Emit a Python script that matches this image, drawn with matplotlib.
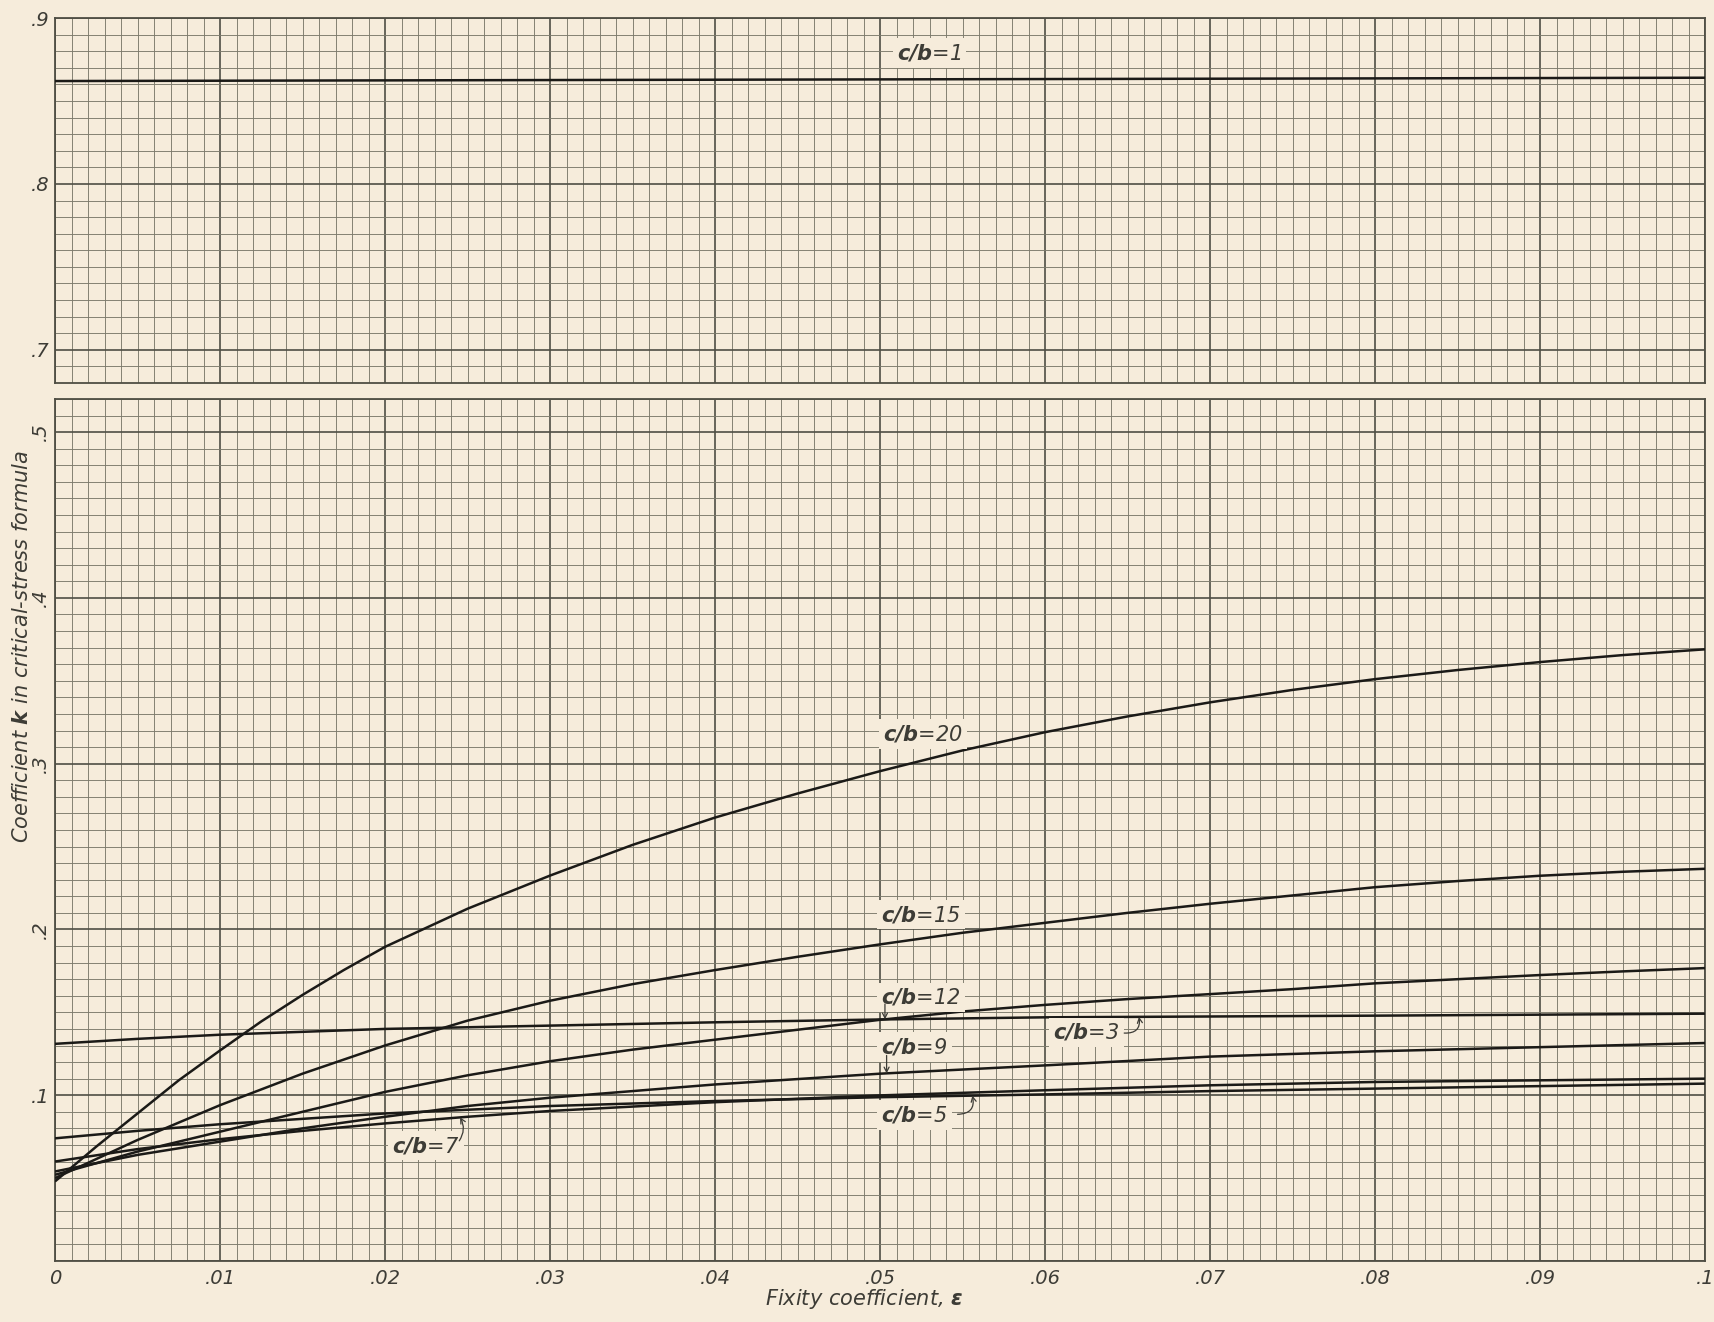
"""
Critical-stress coefficient k against fixity coefficient epsilon,
one curve for each panel ratio c/b, on a broken (two panel) axis.
"""
import numpy as np
import matplotlib
matplotlib.use('Agg')
import matplotlib.pyplot as plt

"""
CURVE DATA
"""
# c/b = 1 sits alone in the upper panel
eps_1 = [0.0, 0.05, 0.1]
k_1 = [0.862, 0.863, 0.864]

eps_3 = [0, .005, .01, .02, .03, .04, .05, .06, .07, .08, .09, .1]
k_3 = [0.131, 0.134, 0.1365, 0.140, 0.142, 0.144, 0.1457, 0.147, 0.1475, 0.148, 0.1486, 0.1492]

eps_5 = [0, .005, .01, .02, .03, .04, .05, .06, .07, .08, .09, .1]
k_5 = [0.074, 0.0785, 0.0825, 0.089, 0.0935, 0.0965, 0.0988, 0.1005, 0.1025, 0.104, 0.1055, 0.107]

eps_7 = [0, .005, .01, .015, .02, .025, .03, .04, .05, .06, .07, .08, .09, .1]
k_7 = [0.060, 0.0675, 0.0735, 0.0785, 0.083, 0.087, 0.0905, 0.0958, 0.0999, 0.103, 0.106, 0.108, 0.109, 0.110]

eps_9 = [0, .005, .01, .015, .02, .025, .03, .04, .05, .06, .07, .08, .09, .1]
k_9 = [0.054, 0.064, 0.072, 0.080, 0.087, 0.0935, 0.0985, 0.1065, 0.113, 0.118, 0.1233, 0.1265, 0.129, 0.1315]

eps_12 = [0, .005, .01, .015, .02, .025, .03, .035, .04, .045, .05, .055, .06, .065, .07, .075, .08, .085, .09, .095, .1]
k_12 = [0.052, 0.066, 0.078, 0.090, 0.102, 0.112, 0.1205, 0.1275, 0.1335, 0.1395, 0.1455, 0.1505, 0.1545, 0.158, 0.161, 0.164, 0.1675, 0.170, 0.1725, 0.1747, 0.1767]

eps_15 = [0, .005, .01, .015, .02, .025, .03, .035, .04, .045, .05, .055, .06, .065, .07, .075, .08, .085, .09, .095, .1]
k_15 = [0.050, 0.073, 0.094, 0.113, 0.130, 0.145, 0.157, 0.167, 0.1755, 0.1835, 0.191, 0.198, 0.204, 0.210, 0.2155, 0.2205, 0.2255, 0.2292, 0.2324, 0.2348, 0.2366]

eps_20 = [0, .0025, .005, .0075, .01, .0125, .015, .0175, .02, .025, .03, .035, .04, .045, .05, .055, .06, .065, .07, .075, .08, .085, .09, .095, .1]
k_20 = [0.048, 0.069, 0.089, 0.109, 0.127, 0.1445, 0.1605, 0.1755, 0.1895, 0.2125, 0.2325, 0.251, 0.2675, 0.282, 0.2955, 0.308, 0.319, 0.3285, 0.337, 0.3445, 0.351, 0.3565, 0.3613, 0.3655, 0.369]

x_ticks = [0, .01, .02, .03, .04, .05, .06, .07, .08, .09, .1]
x_ticklabels = ['0', '.01', '.02', '.03', '.04', '.05', '.06', '.07', '.08', '.09', '.1']
upper_ticks = [0.7, 0.8, 0.9]
upper_ticklabels = ['.7', '.8', '.9']
lower_ticks = [0.0, 0.1, 0.2, 0.3, 0.4, 0.5]
lower_ticklabels = ['', '.1', '.2', '.3', '.4', '.5']

"""
STYLE
"""
PAPER = '#f6ecdb'
MINOR = '#7c7a6b'
MAJOR = '#4f4e44'
INK = '#1b1a17'
TEXT = '#3d3c36'

plt.rcParams['font.family'] = ['DejaVu Sans']
plt.rcParams['mathtext.fontset'] = 'custom'
plt.rcParams['mathtext.rm'] = 'DejaVu Sans:italic'
plt.rcParams['mathtext.it'] = 'DejaVu Sans:italic'
plt.rcParams['mathtext.bf'] = 'DejaVu Sans:italic:bold'

W, H = 1714, 1322
LEFT, RIGHT = 55, 1705


def px_axes(top, bottom):
    # figure-fraction rectangle from pixel rows
    return [LEFT / W, 1 - bottom / H, (RIGHT - LEFT) / W, (bottom - top) / H]


def graph_paper(ax, ylim, yminor, ymajor, ylabels):
    ax.set_facecolor(PAPER)
    ax.set_xlim(0, 0.1)
    ax.set_ylim(*ylim)
    ax.set_xticks(x_ticks)
    ax.set_xticks(np.arange(0, 0.1001, 0.001), minor=True)
    ax.set_yticks(ymajor)
    ax.set_yticks(yminor, minor=True)
    ax.set_yticklabels(ylabels, fontsize=14, style='italic', color=TEXT)
    ax.grid(which='minor', color=MINOR, lw=0.65)
    ax.grid(which='major', color=MAJOR, lw=1.2)
    ax.set_axisbelow(True)
    ax.tick_params(which='both', length=0)
    ax.tick_params(axis='y', pad=4)
    for s in ax.spines.values():
        s.set_color(MAJOR)
        s.set_linewidth(1.3)


def curve(ax, eps, k):
    ax.plot(eps, k, color=INK, lw=1.8, solid_capstyle='butt', zorder=3)


def tag(ax, txt, x, y):
    ax.text(x, y, r'$\mathbf{c/b}$=' + txt, fontsize=15, style='italic', color=TEXT,
            ha='center', va='center', zorder=4,
            bbox=dict(boxstyle='square,pad=0.2', fc=PAPER, ec='none'))


def pointer(ax, start, eps, k, at, rad=0.0):
    # small hand-drawn style arrow from a label onto its curve
    ax.annotate('', xy=(at, np.interp(at, eps, k)), xytext=start, zorder=4,
                arrowprops=dict(arrowstyle='->,head_length=0.35,head_width=0.18',
                                color=TEXT, lw=0.9, shrinkA=0, shrinkB=0,
                                connectionstyle='arc3,rad=%s' % rad))


fig = plt.figure(figsize=(W / 100, H / 100), dpi=100)
fig.patch.set_facecolor(PAPER)

"""
UPPER PANEL
"""
top = fig.add_axes(px_axes(18, 383))
graph_paper(top, (0.68, 0.9), np.arange(0.68, 0.9001, 0.01), upper_ticks, upper_ticklabels)
top.set_xticklabels([])
curve(top, eps_1, k_1)
tag(top, '1', 0.053, 0.879)

"""
LOWER PANEL
"""
bot = fig.add_axes(px_axes(399, 1261))
graph_paper(bot, (0, 0.52), np.arange(0, 0.5201, 0.01), lower_ticks, lower_ticklabels)
bot.set_xticklabels(x_ticklabels, fontsize=14, style='italic', color=TEXT)
bot.tick_params(axis='x', pad=6)
# the k labels of this panel are lettered sideways, except .1
for lab in bot.get_yticklabels():
    if lab.get_text() not in ('', '.1'):
        lab.set_rotation(90)
        lab.set_va('center')

for eps, k in [(eps_3, k_3), (eps_5, k_5), (eps_7, k_7), (eps_9, k_9),
               (eps_12, k_12), (eps_15, k_15), (eps_20, k_20)]:
    curve(bot, eps, k)

tag(bot, '20', 0.0526, 0.318)
tag(bot, '15', 0.0525, 0.209)
tag(bot, '12', 0.0525, 0.159)
tag(bot, '9', 0.0521, 0.129)
tag(bot, '5', 0.0521, 0.088)
tag(bot, '3', 0.0625, 0.138)
tag(bot, '7', 0.0225, 0.0695)

pointer(bot, (0.0503, 0.155), eps_12, k_12, 0.0503)
pointer(bot, (0.0504, 0.124), eps_9, k_9, 0.0504)
pointer(bot, (0.0547, 0.0885), eps_5, k_5, 0.0556, rad=0.6)
pointer(bot, (0.0648, 0.1375), eps_3, k_3, 0.0657, rad=0.6)
pointer(bot, (0.0245, 0.0725), eps_7, k_7, 0.02455, rad=0.3)

"""
AXIS TITLES
"""
fig.text(864 / W, 1 - 1299 / H, r'Fixity coefficient, $\mathbf{\epsilon}$', fontsize=15,
         style='italic', color=TEXT, ha='center', va='center')
fig.text(22 / W, 1 - 647 / H, r'Coefficient $\mathbf{k}$ in critical-stress formula', fontsize=15,
         style='italic', color=TEXT, ha='center', va='center', rotation=90)

plt.savefig('out.png', dpi=100, facecolor=PAPER)
plt.close()
